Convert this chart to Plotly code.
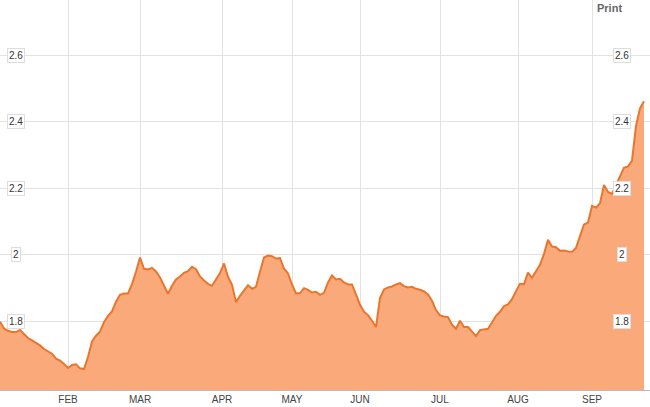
import plotly.graph_objects as go

# Trading-day values
values = [
    1.799, 1.779, 1.772, 1.768, 1.768, 1.774, 1.762, 1.750, 1.743, 1.736,
    1.728, 1.717, 1.710, 1.703, 1.688, 1.682, 1.672, 1.660, 1.669, 1.671,
    1.659, 1.657, 1.693, 1.740, 1.757, 1.769, 1.798, 1.817, 1.830, 1.859,
    1.880, 1.884, 1.884, 1.912, 1.949, 1.992, 1.958, 1.956, 1.961, 1.950,
    1.932, 1.907, 1.883, 1.907, 1.926, 1.935, 1.946, 1.951, 1.964, 1.957,
    1.935, 1.923, 1.913, 1.907, 1.925, 1.945, 1.974, 1.934, 1.910, 1.858,
    1.877, 1.895, 1.909, 1.898, 1.904, 1.949, 1.992, 1.998, 1.996, 1.989,
    1.990, 1.959, 1.944, 1.911, 1.884, 1.885, 1.900, 1.895, 1.887, 1.889,
    1.880, 1.886, 1.917, 1.938, 1.926, 1.928, 1.917, 1.911, 1.911, 1.881,
    1.850, 1.829, 1.819, 1.802, 1.783, 1.870, 1.896, 1.902, 1.905, 1.911,
    1.915, 1.906, 1.902, 1.904, 1.898, 1.895, 1.890, 1.881, 1.862, 1.834,
    1.818, 1.815, 1.813, 1.790, 1.778, 1.802, 1.783, 1.783, 1.770, 1.756,
    1.774, 1.776, 1.778, 1.797, 1.817, 1.829, 1.846, 1.851, 1.867, 1.891,
    1.913, 1.912, 1.947, 1.931, 1.949, 1.970, 2.003, 2.045, 2.025, 2.023,
    2.012, 2.013, 2.010, 2.009, 2.021, 2.055, 2.091, 2.097, 2.147, 2.142,
    2.155, 2.210, 2.189, 2.183, 2.209, 2.235, 2.262, 2.265, 2.283, 2.387,
    2.440, 2.461,
]
days = list(range(len(values)))

month_labels = ["FEB", "MAR", "APR", "MAY", "JUN", "JUL", "AUG", "SEP"]
month_ticks = [17, 35, 55.5, 73, 90, 110, 129.5, 148]

y_ticks = [1.8, 2.0, 2.2, 2.4, 2.6]
y_tick_text = ["1.8", "2", "2.2", "2.4", "2.6"]

FONT = "Arial, Liberation Sans, sans-serif"

fig = go.Figure()
fig.add_trace(go.Scatter(
    x=days, y=values, mode="lines",
    line=dict(color="rgb(234,118,45)", width=2),
    fill="tozeroy", fillcolor="rgb(250,170,122)",
    hoverinfo="skip", showlegend=False,
))

annotations = []
for v, t in zip(y_ticks, y_tick_text):
    for xp in (16 / 650, 622 / 650):
        annotations.append(dict(
            x=xp, xref="paper", y=v, yref="y", text=t, showarrow=False,
            font=dict(family=FONT, size=10, color="#333"),
            bgcolor="white", bordercolor="#dddddd", borderwidth=1, borderpad=1,
            xanchor="center", yanchor="middle",
        ))
annotations.append(dict(
    x=624 / 650, xref="paper", y=1 - 8 / 390, yref="paper", yanchor="middle",
    text="<b>Print</b>", showarrow=False,
    font=dict(family=FONT, size=11, color="#666"),
))

fig.update_layout(
    width=650, height=407,
    margin=dict(l=0, r=0, t=0, b=17),
    paper_bgcolor="white", plot_bgcolor="white",
    annotations=annotations,
    xaxis=dict(
        range=[0, 162.5], tickmode="array", tickvals=month_ticks, ticktext=month_labels,
        showgrid=True, gridcolor="#e2e2e2", gridwidth=1, zeroline=False,
        showline=True, linecolor="#bbbbbb", linewidth=1, ticks="",
        tickfont=dict(family=FONT, size=10, color="#444"),
    ),
    yaxis=dict(
        range=[1.594, 2.7655], tickmode="array", tickvals=y_ticks,
        showticklabels=False, showgrid=True, gridcolor="#e2e2e2", gridwidth=1,
        zeroline=False, ticks="",
    ),
)
fig.write_html(
    "out.html",
    config={"displayModeBar": False},
    post_script="document.body.style.margin='0';document.body.style.overflow='hidden';",
)
